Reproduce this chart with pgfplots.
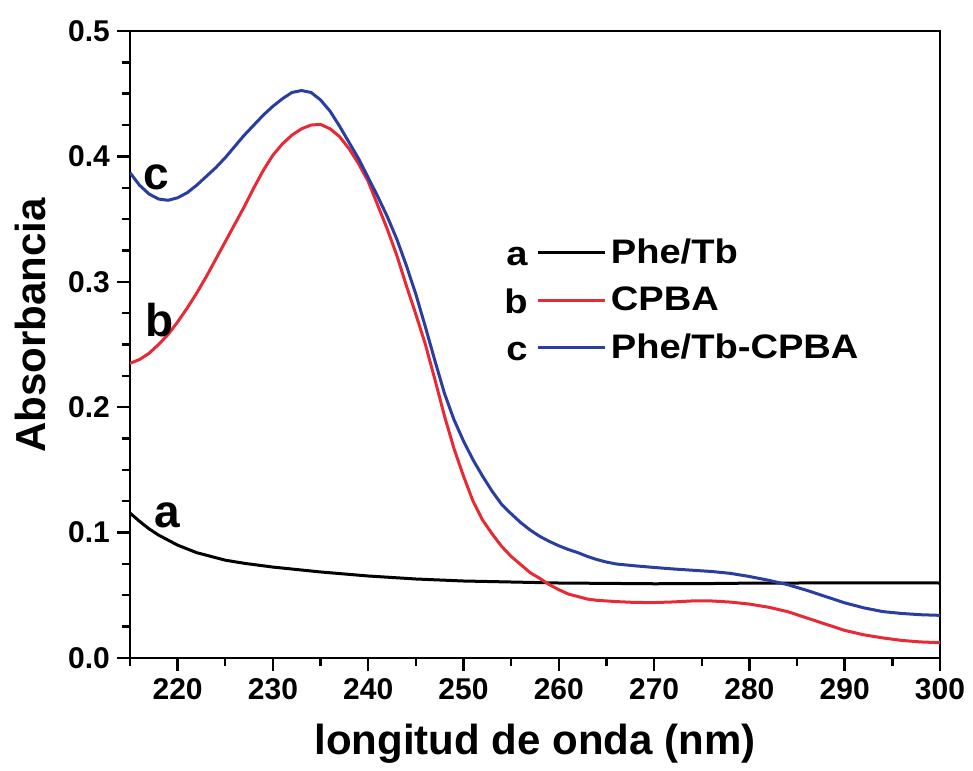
\documentclass[border=0pt]{standalone}
\usepackage{fontspec}
\setmainfont{Liberation Sans}
\newfontfamily\legfont{Liberation Sans}[FakeStretch=1.12]
\usepackage{pgfplots}
\pgfplotsset{compat=1.18}
\definecolor{cred}{RGB}{232,42,52}
\definecolor{cblue}{RGB}{42,62,160}
\begin{document}
\begin{tikzpicture}
\path[use as bounding box] (-65pt,-56pt) rectangle (421.5pt,329pt);
\begin{axis}[
  scale only axis, width=405pt, height=313.5pt,
  xmin=215, xmax=300, ymin=0, ymax=0.5,
  axis line style={line width=1.4pt},
  every tick/.style={black, line width=1.2pt},
  tick align=outside, xtick pos=left, ytick pos=left,
  major tick length=6.5pt, minor tick length=4pt,
  xtick={220,230,...,300},
  minor xtick={215,225,...,295},
  ytick={0,0.1,...,0.5},
  minor y tick num=3,
  yticklabel style={/pgf/number format/.cd, fixed, fixed zerofill, precision=1},
  /pgf/number format/assume math mode=true,
  ticklabel style={font=\bfseries\fontsize{15}{18}\selectfont},
  xlabel={longitud de onda (nm)},
  ylabel={Absorbancia},
  label style={font=\bfseries\fontsize{21}{25}\selectfont},
  xlabel style={at={(axis description cs:0.5,0)}, anchor=north, yshift=-33pt, inner sep=0pt},
  ylabel style={at={(axis description cs:-0.123,0.53)}, anchor=center, inner sep=0pt},
  legend style={draw=none, fill=none, at={(axis description cs:0.4617,0.675)}, anchor=north west,
    font=\legfont\bfseries\fontsize{17}{21}\selectfont, row sep=6pt, inner sep=0pt},
  legend cell align=left,
]
\addplot[black, line width=1.5pt,
  legend image code/.code={\node[anchor=base east, inner sep=0pt, text=black] at (-0.02cm,-6.5pt) {a}; \draw[black, line width=1.5pt] (0.14cm,0cm) -- (1.32cm,0cm);}]
coordinates {
(215,0.1156)(216,0.109)(217,0.103)(218,0.098)(219,0.094)(220,0.090)(221,0.087)(222,0.084)(223,0.082)(224,0.080)(225,0.078)(227,0.0755)(230,0.0725)(235,0.0686)(240,0.0654)(245,0.063)(250,0.0614)(255,0.0606)(260,0.0598)(265,0.0595)(270,0.0592)(275,0.0593)(280,0.0597)(285,0.0598)(290,0.0600)(295,0.0600)(300,0.0598)
};
\addlegendentry{Phe/Tb}
\addplot[cred, line width=1.5pt,
  legend image code/.code={\node[anchor=base east, inner sep=0pt, text=black] at (-0.02cm,-6.5pt) {b}; \draw[cred, line width=1.5pt] (0.14cm,0cm) -- (1.32cm,0cm);}]
coordinates {
(215,0.235)(216,0.238)(217,0.243)(218,0.250)(219,0.258)(220,0.268)(221,0.279)(222,0.291)(223,0.304)(224,0.318)(225,0.332)(226,0.346)(227,0.360)(228,0.375)(229,0.389)(230,0.401)(231,0.410)(232,0.417)(233,0.422)(234,0.425)(235,0.4255)(236,0.422)(237,0.4157)(238,0.406)(239,0.394)(240,0.380)(241,0.361)(242,0.342)(243,0.321)(244,0.297)(245,0.274)(246,0.250)(247,0.222)(248,0.193)(249,0.167)(250,0.145)(251,0.125)(252,0.110)(253,0.099)(254,0.089)(255,0.081)(256,0.0745)(257,0.068)(258,0.0635)(259,0.0585)(260,0.0545)(261,0.051)(262,0.049)(263,0.047)(264,0.046)(266,0.045)(268,0.0443)(270,0.0442)(272,0.0447)(274,0.0455)(276,0.0455)(278,0.0446)(280,0.043)(282,0.0405)(284,0.037)(286,0.032)(288,0.027)(290,0.022)(292,0.0185)(294,0.016)(296,0.014)(298,0.0128)(300,0.0122)
};
\addlegendentry{CPBA}
\addplot[cblue, line width=1.5pt,
  legend image code/.code={\node[anchor=base east, inner sep=0pt, text=black] at (-0.02cm,-6.5pt) {c}; \draw[cblue, line width=1.5pt] (0.14cm,0cm) -- (1.32cm,0cm);}]
coordinates {
(215,0.387)(216,0.377)(217,0.370)(218,0.366)(219,0.365)(220,0.367)(221,0.371)(222,0.377)(223,0.384)(224,0.391)(225,0.399)(226,0.408)(227,0.417)(228,0.425)(229,0.433)(230,0.440)(231,0.446)(232,0.451)(233,0.4525)(234,0.451)(235,0.445)(236,0.436)(237,0.424)(238,0.411)(239,0.398)(240,0.383)(241,0.368)(242,0.352)(243,0.334)(244,0.313)(245,0.290)(246,0.264)(247,0.237)(248,0.211)(249,0.190)(250,0.173)(251,0.158)(252,0.145)(253,0.133)(254,0.1225)(255,0.115)(256,0.108)(257,0.102)(258,0.097)(259,0.093)(260,0.0895)(261,0.0865)(262,0.084)(263,0.081)(264,0.0785)(265,0.0765)(266,0.075)(268,0.0735)(270,0.0722)(272,0.071)(274,0.070)(276,0.069)(278,0.0675)(280,0.065)(282,0.062)(284,0.0585)(286,0.054)(288,0.049)(290,0.044)(292,0.040)(294,0.037)(296,0.0355)(298,0.0345)(300,0.034)
};
\addlegendentry{Phe/Tb-CPBA}
\node[font=\bfseries\fontsize{23}{27}\selectfont] at (axis cs:217.8,0.383) {c};
\node[font=\bfseries\fontsize{23}{27}\selectfont] at (axis cs:218.1,0.2695) {b};
\node[font=\bfseries\fontsize{23}{27}\selectfont] at (axis cs:218.9,0.114) {a};
\end{axis}
\end{tikzpicture}
\end{document}
